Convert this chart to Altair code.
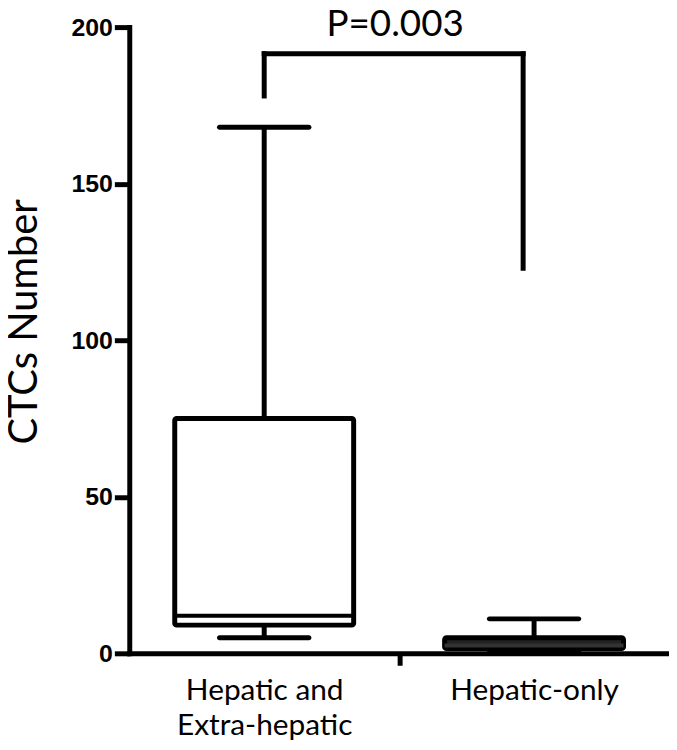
import altair as alt
import pandas as pd

categories = ["Hepatic and Extra-hepatic", "Hepatic-only"]
lower = [5, 0.5]
q1 = [9, 1.5]
median = [12, 2.5]
q3 = [75, 5]
upper = [168, 11]

y_ticks = [0, 50, 100, 150, 200]
bracket_top = 191.5
bracket_left_end = 178
bracket_right_end = 123
p_label = "P=0.003"
p_y = 197.2

box = pd.DataFrame({"group": categories, "lower": lower, "q1": q1,
                    "median": median, "q3": q3, "upper": upper})

xscale = alt.Scale(domain=categories, paddingInner=0, paddingOuter=0)
xaxis = alt.Axis(
    title=None, domainColor="black", domainWidth=5, domainCap="square",
    tickColor="black", tickWidth=5, tickSize=12, tickOffset=-135.75,
    tickOpacity={"condition": {"test": "datum.value == 'Hepatic and Extra-hepatic'", "value": 0}, "value": 1},
    labelOffset=135.75, labelAngle=0, labelFont="Lato", labelFontSize=30,
    labelColor="black", labelPadding=10, labelLineHeight=36, labelBaseline="top",
    labelExpr="datum.label == 'Hepatic and Extra-hepatic' ? ['Hepatic and', 'Extra-hepatic'] : datum.label",
    grid=False)
X = alt.X("group:N", scale=xscale, axis=xaxis)

yscale = alt.Scale(domain=[0, 200], nice=False)
yaxis = alt.Axis(
    title="CTCs Number", titleFont="Lato", titleFontSize=40, titleFontWeight="normal",
    titleColor="black", titleX=-93, titleY=296, titleAngle=270, titleBaseline="alphabetic",
    titleAlign="center",
    values=y_ticks, domainColor="black", domainWidth=5, domainCap="square",
    tickColor="black", tickWidth=5, tickSize=15,
    labelFont="Liberation Sans", labelFontWeight="bold", labelFontSize=25,
    labelColor="black", labelPadding=2, grid=False)

whisk_lo = alt.Chart(box).mark_rule(color="black", strokeWidth=5).encode(
    x=X, y=alt.Y("lower:Q", scale=yscale, axis=yaxis), y2="q1:Q")
whisk_hi = alt.Chart(box).mark_rule(color="black", strokeWidth=5).encode(
    x=X, y=alt.Y("q3:Q", scale=yscale, axis=yaxis), y2="upper:Q")
rect = alt.Chart(box).mark_bar(size=180, stroke="black", strokeWidth=5, cornerRadius=2).encode(
    x=X, y=alt.Y("q1:Q", scale=yscale, axis=yaxis), y2="q3:Q",
    fill=alt.condition("datum.group == 'Hepatic-only'", alt.value("#222222"), alt.value("white")))
med = alt.Chart(box).mark_tick(size=180, thickness=4, opacity=1).encode(
    x=X, y=alt.Y("median:Q", scale=yscale, axis=yaxis),
    color=alt.condition("datum.group == 'Hepatic-only'", alt.value("#333333"), alt.value("black")))
cap_lo = alt.Chart(box).mark_tick(size=95, thickness=5, color="black", opacity=1, cornerRadius=2.5).encode(
    x=X, y=alt.Y("lower:Q", scale=yscale, axis=yaxis))
cap_hi = alt.Chart(box).mark_tick(size=95, thickness=5, color="black", opacity=1, cornerRadius=2.5).encode(
    x=X, y=alt.Y("upper:Q", scale=yscale, axis=yaxis))

left_leg = alt.Chart(pd.DataFrame({"group": [categories[0]], "y": [bracket_left_end], "y2": [bracket_top]})).mark_rule(
    color="black", strokeWidth=5, strokeCap="square").encode(
    x=X, y=alt.Y("y:Q", scale=yscale, axis=yaxis), y2="y2:Q")
right_leg = alt.Chart(pd.DataFrame({"group": [categories[1]], "y": [bracket_right_end], "y2": [bracket_top]})).mark_rule(
    color="black", strokeWidth=5, strokeCap="square", xOffset=-11).encode(
    x=X, y=alt.Y("y:Q", scale=yscale, axis=yaxis), y2="y2:Q")
top_bar = alt.Chart(pd.DataFrame({"group": [categories[0]], "group2": [categories[1]], "y": [bracket_top]})).mark_rule(
    color="black", strokeWidth=5, strokeCap="square", x2Offset=-11).encode(
    x=X, x2="group2:N", y=alt.Y("y:Q", scale=yscale, axis=yaxis))

ptext = alt.Chart(pd.DataFrame({"group": [categories[1]], "y": [p_y], "t": [p_label]})).mark_text(
    font="Lato", fontSize=37, color="black", align="center", baseline="alphabetic", dx=-4).encode(
    x=alt.X("group:N", scale=xscale, axis=xaxis, bandPosition=0),
    y=alt.Y("y:Q", scale=yscale, axis=yaxis), text="t:N")

chart = alt.layer(whisk_lo, whisk_hi, rect, med, cap_lo, cap_hi,
                  left_leg, right_leg, top_bar, ptext).properties(
    width=543, height=630,
    autosize=alt.AutoSizeParams(type="none"),
    padding={"left": 122, "top": 17, "right": 0, "bottom": 87},
    background="white",
).configure_view(stroke=None)

chart.save("out.html", embed_options={"renderer": "svg", "actions": False})
